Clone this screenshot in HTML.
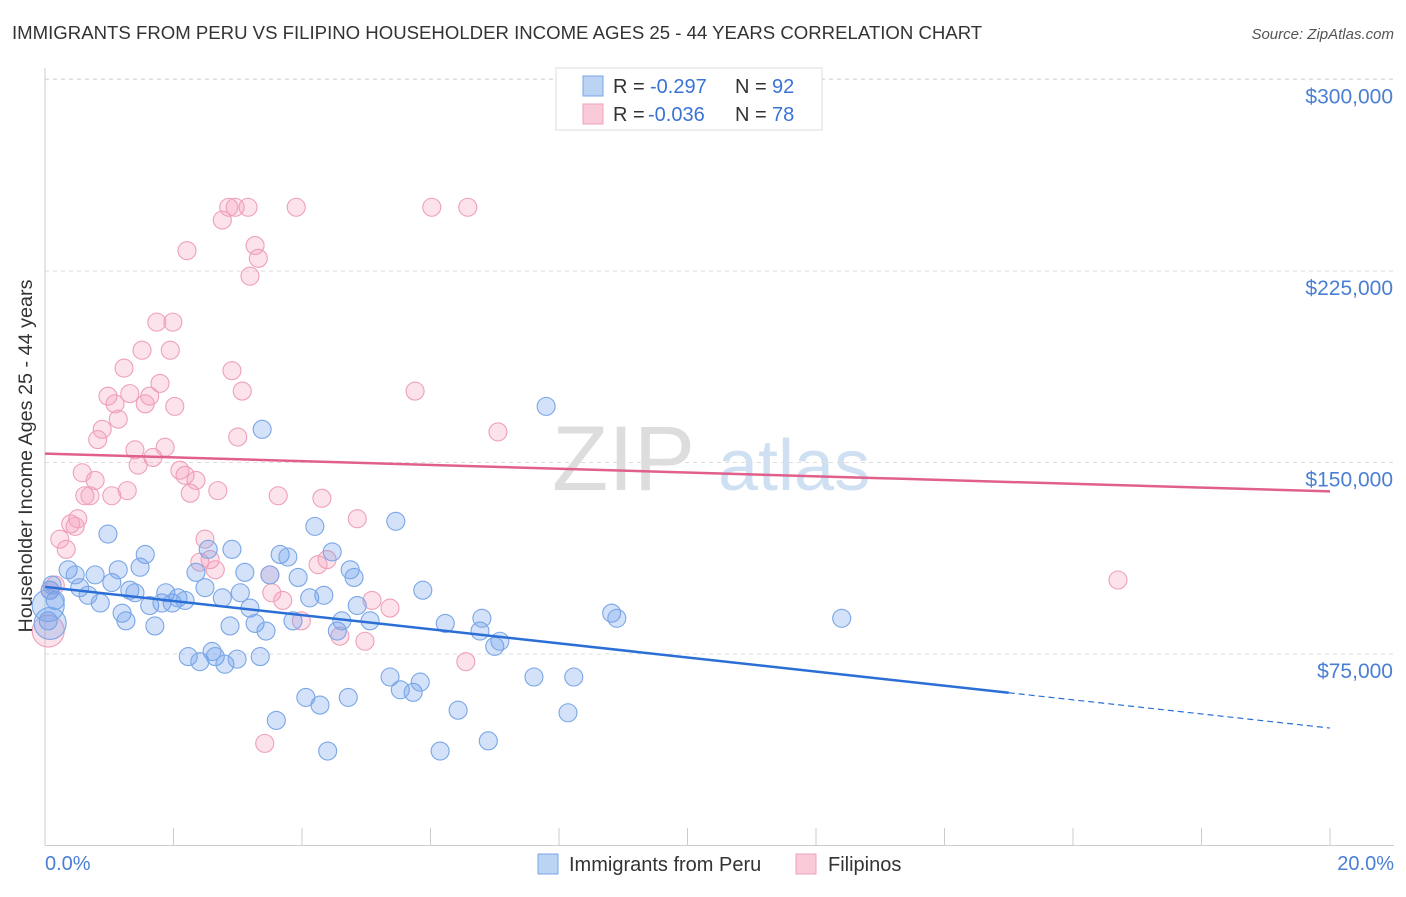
<!DOCTYPE html>
<html><head><meta charset="utf-8"><style>
body{margin:0;background:#fff;font-family:"Liberation Sans",sans-serif}
svg text{font-family:"Liberation Sans",sans-serif}
</style></head><body>
<svg id="c" width="1406" height="892" viewBox="0 0 1406 892">
<text x="12" y="39" font-size="18.6" fill="#333">IMMIGRANTS FROM PERU VS FILIPINO HOUSEHOLDER INCOME AGES 25 - 44 YEARS CORRELATION CHART</text>
<text x="1394" y="39" font-size="15" fill="#555" text-anchor="end" font-style="italic">Source: ZipAtlas.com</text>
<g>
<text x="552" y="490" font-size="92" fill="#ddd" font-family="Liberation Serif">ZIP</text>
<text x="718" y="490" font-size="72" fill="#cfe0f3">atlas</text>
</g>
<g id="grid"></g><g id="axes"></g><g id="pts"></g><g id="trend"></g>
<text x="32" y="456" font-size="19.8" fill="#333" text-anchor="middle" transform="rotate(-90 32 456)">Householder Income Ages 25 - 44 years</text>
<text x="45" y="870" font-size="20" fill="#4a7fd4">0.0%</text>
<text x="1394" y="870" font-size="20" fill="#4a7fd4" text-anchor="end">20.0%</text>
<g>
<rect x="556" y="68" width="266" height="62" fill="#fff" stroke="#ddd"/>
<rect x="583" y="76" width="20" height="20" fill="#bcd4f4" stroke="#7aa6e6"/>
<rect x="583" y="104" width="20" height="20" fill="#f9cbd9" stroke="#eea0b8"/>
<text y="93" font-size="20" fill="#333"><tspan x="613">R =</tspan><tspan x="650" fill="#3a73d6">-0.297</tspan><tspan x="735">N =</tspan><tspan x="772" fill="#3a73d6">92</tspan></text>
<text y="121" font-size="20" fill="#333"><tspan x="613">R =</tspan><tspan x="648" fill="#3a73d6">-0.036</tspan><tspan x="735">N =</tspan><tspan x="772" fill="#3a73d6">78</tspan></text>
</g>
<g>
<rect x="538" y="854" width="20" height="20" fill="#bcd4f4" stroke="#7aa6e6"/>
<text x="569" y="871" font-size="20" fill="#333">Immigrants from Peru</text>
<rect x="796" y="854" width="20" height="20" fill="#f9cbd9" stroke="#eea0b8"/>
<text x="828" y="871" font-size="20" fill="#333">Filipinos</text>
</g>
</svg>
<script>
const yTicks=[75,150,225,300];
const yTickLabels=["$75,000","$150,000","$225,000","$300,000"];
const xTicks=[0,2,4,6,8,10,12,14,16,18,20];
const peruX=[0.08,0.16,0.05,0.11,0.36,0.47,0.54,0.67,0.78,0.86,0.98,1.04,1.14,1.2,1.26,1.32,1.4,1.48,1.56,1.63,1.71,1.82,1.88,1.98,2.07,2.18,2.23,2.35,2.41,2.49,2.54,2.6,2.65,2.76,2.8,2.88,2.91,2.99,3.04,3.11,3.19,3.27,3.35,3.38,3.44,3.5,3.6,3.66,3.78,3.86,3.94,4.06,4.12,4.2,4.28,4.34,4.4,4.47,4.55,4.62,4.72,4.75,4.81,4.86,5.06,5.37,5.46,5.53,5.73,5.84,5.88,6.15,6.23,6.43,6.77,6.8,6.9,7.0,7.08,7.61,7.8,8.14,8.23,8.82,8.9,12.4,0.05,0.08];
const peruY=[100,96,88,102,108,106,101,98,106,95,122,103,108,91,88,100,99,109,114,94,86,95,99,95,97,96,74,107,72,101,116,76,74,97,71,86,116,73,99,107,93,87,74,163,84,106,49,114,113,88,105,58,97,125,55,98,37,115,84,88,58,108,105,94,88,66,127,61,60,64,100,37,87,53,84,89,41,78,80,66,172,52,66,91,89,89,94,87];
const filX=[0.05,0.08,0.16,0.23,0.33,0.4,0.47,0.51,0.58,0.62,0.7,0.78,0.82,0.89,0.98,1.04,1.09,1.14,1.23,1.28,1.32,1.4,1.45,1.51,1.56,1.63,1.68,1.74,1.79,1.87,1.95,1.99,2.02,2.1,2.18,2.21,2.26,2.35,2.41,2.49,2.57,2.65,2.69,2.76,2.86,2.91,2.96,3.0,3.07,3.16,3.19,3.27,3.32,3.42,3.5,3.53,3.63,3.7,3.91,3.99,4.25,4.31,4.39,4.59,4.86,4.98,5.09,5.37,5.76,6.02,6.55,6.58,7.05,16.7];
const filY=[84,100,102,120,116,126,125,128,146,137,137,143,159,163,176,137,173,167,187,139,177,155,149,194,173,176,152,205,181,156,194,205,172,147,145,233,138,143,111,120,112,108,139,245,250,186,250,160,178,250,223,235,230,40,106,99,137,96,250,88,110,136,112,82,128,80,96,93,178,250,72,250,162,104];
const bigPeru=[86,87], bigFil=[0];
const peruTrend=[101.3,46], filTrend=[153.5,138.7], peruSolidEnd=15.0;
const X=v=>45+v*64.25, Y=v=>845.5-v*2.553;
const NS="http://www.w3.org/2000/svg";
function mk(t,a,p){const e=document.createElementNS(NS,t);for(const k in a)e.setAttribute(k,a[k]);p.appendChild(e);return e;}
const grid=document.getElementById('grid'),axes=document.getElementById('axes'),pts=document.getElementById('pts'),tr=document.getElementById('trend');
yTicks.forEach((v,i)=>{
 const l=mk('line',{x1:45,x2:1394,y1:Y(v),y2:Y(v),stroke:'#ddd','stroke-dasharray':'4 4'},grid);
 
 
 const t=mk('text',{x:1393,y:Y(v)+24,'font-size':21,fill:'#4a7fd4','text-anchor':'end'},axes);
 t.textContent=yTickLabels[i];
 
 
});
const tl=mk('line',{x1:45,x2:1394,y1:79,y2:79,stroke:'#ddd','stroke-dasharray':'4 4'},grid);


const ax=mk('line',{x1:45,x2:1394,y1:845.5,y2:845.5,stroke:'#ccc'},axes);


const ay=mk('line',{x1:45,x2:45,y1:68,y2:845.5,stroke:'#ccc'},axes);


xTicks.forEach(v=>{const l=mk('line',{x1:X(v),x2:X(v),y1:828,y2:845.5,stroke:'#ccc'},axes);
 
 });
function series(xs,ys,big,fill,stroke,name){xs.forEach((x,i)=>{
 const c=mk('circle',{cx:X(x),cy:Y(ys[i]),r:big.includes(i)?16:9,fill:fill,stroke:stroke,'stroke-width':1.1},pts);
 
 });}
series(filX,filY,bigFil,'rgba(244,160,188,0.3)','#eea0b8','filipinos-point');
series(peruX,peruY,bigPeru,'rgba(110,160,235,0.3)','#7aa6e6','peru-point');
const pa=peruTrend[0],pb=peruTrend[1],pm=pa+(pb-pa)*peruSolidEnd/20;
const l1=mk('line',{x1:X(0),y1:Y(pa),x2:X(peruSolidEnd),y2:Y(pm),stroke:'#2b6fd6','stroke-width':2.5},tr);


const l2=mk('line',{x1:X(peruSolidEnd),y1:Y(pm),x2:X(20),y2:Y(pb),stroke:'#2b6fd6','stroke-width':1.2,'stroke-dasharray':'6 4'},tr);


const l3=mk('line',{x1:X(0),y1:Y(filTrend[0]),x2:X(20),y2:Y(filTrend[1]),stroke:'#e0608a','stroke-width':2.5},tr);


</script>
</body></html>
